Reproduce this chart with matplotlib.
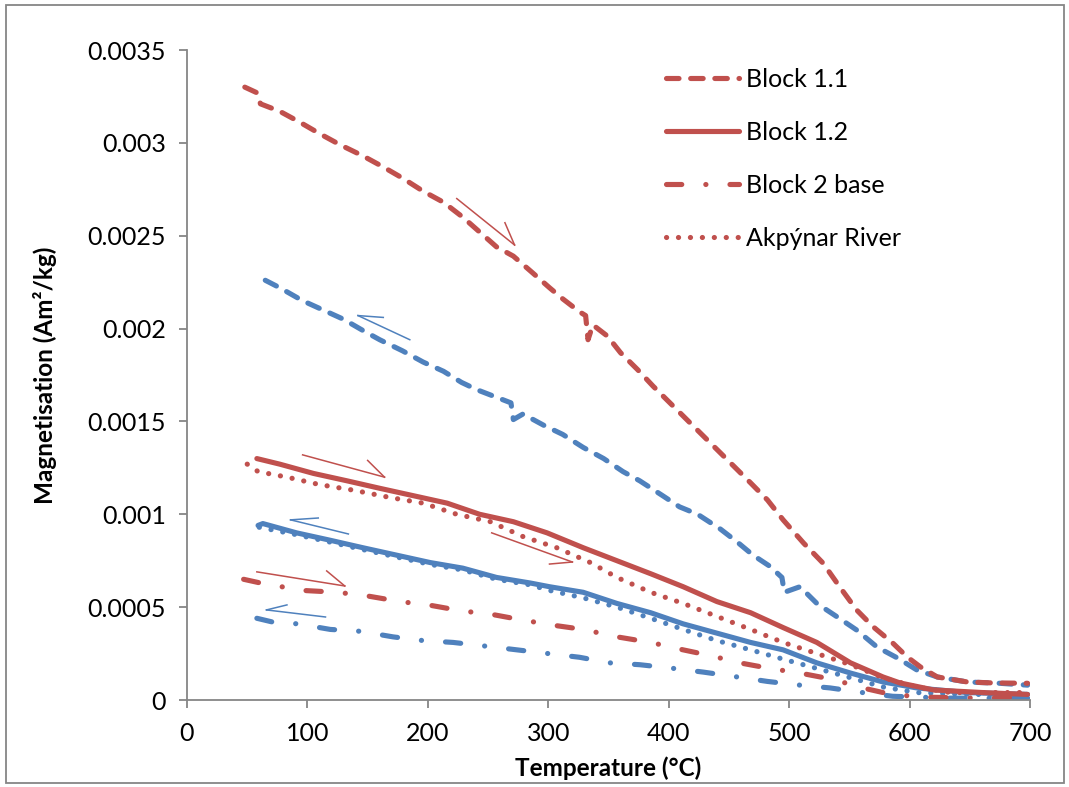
import matplotlib
matplotlib.use("Agg")
import matplotlib.pyplot as plt
from matplotlib.patches import Rectangle
from matplotlib.ticker import FuncFormatter

plt.rcParams['font.family'] = ['Lato', 'DejaVu Sans']
plt.rcParams['lines.scale_dashes'] = False

RED = '#C0504D'
BLUE = '#4F81BD'

# Block 1.1 heating (red dashed)
b11_heat_T = [48, 58, 61, 77, 94, 110, 127, 146, 163, 179, 196, 213, 229, 243, 257, 271, 287,
              301, 312, 326, 331, 333, 337, 349, 360, 374, 387, 401, 415, 429, 443, 457, 468,
              482, 495, 512, 528, 542, 556, 570, 586, 598, 609, 623, 648, 669, 698]
b11_heat_M = [0.00330, 0.00327, 0.00321, 0.00317, 0.00311, 0.00305, 0.00299, 0.00293, 0.00287,
              0.00281, 0.00274, 0.00268, 0.00260, 0.00252, 0.00244, 0.00239, 0.00230, 0.00222,
              0.00216, 0.00209, 0.00207, 0.00194, 0.00202, 0.00196, 0.00187, 0.00178, 0.00169,
              0.00160, 0.00151, 0.00142, 0.00133, 0.00124, 0.001169, 0.001077, 0.00097,
              0.000845, 0.000738, 0.000609, 0.000485, 0.000393, 0.000307, 0.000232, 0.000178,
              0.000124, 0.000097, 0.000092, 0.000090]

# Block 1.1 cooling (blue dashed)
b11_cool_T = [65, 77, 96, 113, 130, 146, 160, 179, 196, 213, 228, 241, 257, 269, 271, 279, 296,
              312, 329, 346, 362, 376, 395, 409, 424, 443, 457, 470, 484, 494, 496, 509, 523,
              540, 556, 573, 590, 606, 623, 648, 675, 698]
b11_cool_M = [0.00226, 0.00222, 0.00215, 0.00210, 0.00205, 0.00199, 0.00194, 0.00188, 0.00182,
              0.00177, 0.00171, 0.00167, 0.00163, 0.00160, 0.00151, 0.00154, 0.00148, 0.00143,
              0.00136, 0.00130, 0.00123, 0.00118, 0.00110, 0.00104, 0.00100, 0.00092, 0.00085,
              0.00078, 0.00072, 0.00066, 0.00058, 0.00061, 0.00052, 0.000447, 0.000377,
              0.000285, 0.000226, 0.000162, 0.000124, 0.000097, 0.000090, 0.000080]

# Block 1.2 heating (red solid)
b12_heat_T = [58, 77, 105, 133, 160, 188, 216, 243, 271, 299, 329, 357, 385, 412, 440, 468,
              495, 523, 551, 578, 592, 620, 661, 698]
b12_heat_M = [0.00130, 0.00127, 0.00122, 0.00118, 0.00114, 0.00110, 0.00106, 0.00100, 0.00096,
              0.00090, 0.00082, 0.00075, 0.00068, 0.00061, 0.00053, 0.00047, 0.00039, 0.00031,
              0.00020, 0.000124, 0.000092, 0.000054, 0.000040, 0.000030]

# Block 1.2 cooling (blue solid)
b12_cool_T = [59, 63, 91, 119, 146, 174, 202, 229, 257, 285, 301, 329, 357, 385, 412, 440,
              468, 495, 523, 551, 578, 606, 648, 698]
b12_cool_M = [0.00094, 0.00095, 0.00090, 0.00086, 0.00082, 0.00078, 0.00074, 0.00071, 0.00066,
              0.00063, 0.00061, 0.00058, 0.00052, 0.00047, 0.00041, 0.00036, 0.00031, 0.00027,
              0.00020, 0.000145, 0.000097, 0.000065, 0.000040, 0.000030]

# Block 2 base heating (red dash-dot)
b2_heat_T = [47, 61, 96, 125, 150, 177, 202, 228, 254, 279, 307, 329, 357, 385, 412, 434, 459,
             484, 509, 537, 561, 578, 606, 661, 698]
b2_heat_M = [0.00065, 0.00063, 0.00059, 0.00058, 0.00056, 0.00053, 0.00051, 0.00048, 0.00046,
             0.00043, 0.00040, 0.00038, 0.00034, 0.00031, 0.00027, 0.00024, 0.00020, 0.00017,
             0.000145, 0.00011, 0.000065, 0.000040, 0.000016, 0.000010, 0.000016]

# Block 2 base cooling (blue dash-dot)
b2_cool_T = [58, 71, 92, 119, 144, 171, 196, 221, 248, 274, 300, 326, 351, 376, 404, 429, 457,
             482, 509, 534, 561, 586, 634, 698]
b2_cool_M = [0.00044, 0.00042, 0.00041, 0.00038, 0.00037, 0.00034, 0.00032, 0.00031, 0.00029,
             0.00027, 0.00025, 0.00023, 0.00020, 0.00019, 0.00017, 0.00015, 0.000124, 0.00010,
             0.00008, 0.000065, 0.00004, 0.00002, 0.00001, 0.00001]

# Akpynar River heating (red dotted)
akp_heat_T = [50, 59, 83, 110, 138, 169, 196, 224, 252, 279, 307, 335, 357, 385, 412, 440, 468,
              495, 523, 551, 578, 606, 634, 698]
akp_heat_M = [0.00127, 0.00123, 0.00120, 0.00116, 0.00113, 0.00109, 0.00106, 0.00100, 0.00096,
              0.00088, 0.00082, 0.00074, 0.00066, 0.00058, 0.00052, 0.00045, 0.00038, 0.00031,
              0.00025, 0.00019, 0.00012, 0.00007, 0.00004, 0.00004]

# Akpynar River cooling (blue dotted)
akp_cool_T = [60, 91, 119, 146, 174, 202, 229, 257, 285, 301, 329, 357, 385, 412, 440, 468,
              495, 523, 551, 578, 606, 650, 698]
akp_cool_M = [0.00093, 0.00089, 0.00085, 0.00081, 0.00077, 0.00073, 0.00070, 0.00065, 0.00062,
              0.00059, 0.00055, 0.00050, 0.00044, 0.00038, 0.00032, 0.00027, 0.00022, 0.00017,
              0.00012, 0.00007, 0.00004, 0.00003, 0.00003]

# arrows: (tail T, tail M, head T, head M, barb T, barb M, colour)
arrows = [
    (224, 0.00270, 272, 0.00245, 264, 0.00257, RED),
    (185, 0.00194, 142, 0.00207, 163, 0.00206, BLUE),
    (96, 0.00132, 164, 0.00120, 150, 0.00129, RED),
    (134, 0.000894, 86, 0.00097, 109, 0.00098, BLUE),
    (58, 0.00069, 131, 0.000614, 116, 0.000695, RED),
    (115, 0.000447, 66, 0.000485, 83, 0.000512, BLUE),
    (253, 0.00090, 320, 0.000743, 301, 0.000732, RED),
]

dashed = (0, (9, 8.4))
dashdot = (0, (11, 17.3, 0.1, 17.3))
dotted = (0, (0.1, 8.5))
LW = 3.7

fig = plt.figure(figsize=(10.69, 7.87), dpi=100)
ax = fig.add_axes([187 / 1069, 1 - 700 / 787, 843 / 1069, 650 / 787])

kw = dict(lw=LW, dash_capstyle='round', solid_capstyle='round', solid_joinstyle='round')
ax.plot(b11_cool_T, b11_cool_M, color=BLUE, ls=dashed, **kw)
ax.plot(b12_cool_T, b12_cool_M, color=BLUE, ls='-', **kw)
ax.plot(b2_cool_T, b2_cool_M, color=BLUE, ls=dashdot, **kw)
ax.plot(akp_cool_T, akp_cool_M, color=BLUE, ls=dotted, **kw)
ax.plot(b11_heat_T, b11_heat_M, color=RED, ls=dashed, label='Block 1.1', **kw)
ax.plot(b12_heat_T, b12_heat_M, color=RED, ls='-', label='Block 1.2', **kw)
ax.plot(b2_heat_T, b2_heat_M, color=RED, ls=dashdot, label='Block 2 base', **kw)
ax.plot(akp_heat_T, akp_heat_M, color=RED, ls=dotted, label='Akpýnar River', **kw)

for t0, m0, t1, m1, tb, mb, c in arrows:
    ax.plot([t0, t1], [m0, m1], color=c, lw=1.1)
    ax.plot([tb, t1], [mb, m1], color=c, lw=1.1)

ax.set_xlim(0, 700)
ax.set_ylim(0, 0.0035)
ax.set_xticks(range(0, 701, 100))
ax.set_yticks([round(i * 0.0005, 4) for i in range(8)])
ax.yaxis.set_major_formatter(FuncFormatter(lambda v, p: '0' if v == 0 else format(round(v, 4), 'g')))

for s in ['top', 'right']:
    ax.spines[s].set_visible(False)
for s in ['left', 'bottom']:
    ax.spines[s].set_color('#868686')
    ax.spines[s].set_linewidth(1.3)
ax.tick_params(direction='out', length=6, width=1.3, color='#868686', labelsize=18)
ax.tick_params(axis='y', pad=9)
ax.tick_params(axis='x', pad=10)

ax.set_xlabel('Temperature (°C)', fontsize=17.5, fontweight='bold', labelpad=8)
ax.set_ylabel('Magnetisation (Am²/kg)', fontsize=17.5, fontweight='bold', labelpad=22)

ax.legend(loc='upper left', bbox_to_anchor=(666 / 1069, 1 - 68 / 787),
          bbox_transform=fig.transFigure, frameon=False, fontsize=18,
          handlelength=2.9, handletextpad=0.3, labelspacing=1.2,
          borderpad=0, borderaxespad=0)

fig.patches.append(Rectangle((6 / 1069, 4 / 787), 1058 / 1069, 778 / 787,
                             transform=fig.transFigure, fill=False,
                             edgecolor='#868686', lw=1.3))

fig.savefig('out.png', dpi=100)
